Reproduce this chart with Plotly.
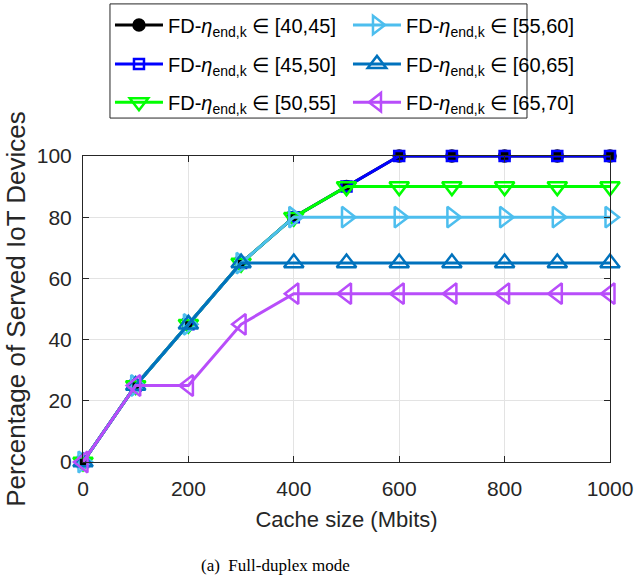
import plotly.graph_objects as go

cache_size = [0, 100, 200, 300, 400, 500, 600, 700, 800, 900, 1000]
ranges = ["[40,45]", "[45,50]", "[50,55]", "[55,60]", "[60,65]", "[65,70]"]
served_40_45 = [0, 25, 45, 65, 80, 90, 100, 100, 100, 100, 100]
served_45_50 = [0, 25, 45, 65, 80, 90, 100, 100, 100, 100, 100]
served_50_55 = [0, 25, 45, 65, 80, 90, 90, 90, 90, 90, 90]
served_55_60 = [0, 25, 45, 65, 80, 80, 80, 80, 80, 80, 80]
served_60_65 = [0, 25, 45, 65, 65, 65, 65, 65, 65, 65, 65]
served_65_70 = [0, 25, 25, 45, 55, 55, 55, 55, 55, 55, 55]
x_ticks = [0, 200, 400, 600, 800, 1000]
y_ticks = [0, 20, 40, 60, 80, 100]

series = [served_40_45, served_45_50, served_50_55, served_55_60, served_60_65, served_65_70]
colors = ["#000000", "#0000FF", "#00FF00", "#4DBEEE", "#0072BD", "#B84DFA"]
symbols = ["circle", "square-open", "triangle-down-open", "triangle-right-open", "triangle-up-open", "triangle-left-open"]
sizes = [11, 10, 17, 18, 17, 18]

# legend layout: two columns, three rows (column-major like the reference)
legend_names = ["legend", "legend2", "legend3", "legend4", "legend5", "legend6"]
col_x = [0.0512, 0.5028]
row_y = [1.428, 1.301, 1.176]

fig = go.Figure()
for i, (vals, rng, col, sym, sz) in enumerate(zip(series, ranges, colors, symbols, sizes)):
    fig.add_trace(go.Scatter(
        x=cache_size, y=vals, mode="lines+markers",
        name="FD-<i>η</i><sub>end,k</sub> ∈ " + rng,
        line=dict(color=col, width=3),
        marker=dict(symbol=sym, size=sz, color=col, line=dict(color=col, width=2.5)),
        cliponaxis=False, legend=legend_names[i],
    ))

axis_common = dict(
    showline=True, linecolor="#262626", linewidth=1, mirror="ticks",
    ticks="inside", ticklen=6, tickcolor="#262626",
    showgrid=True, gridcolor="#E3E3E3", gridwidth=1, zeroline=False,
    tickfont=dict(family="Liberation Sans, Arial, sans-serif", size=21, color="#262626"),
    automargin=False,
)

legend_layout = {}
for i, name in enumerate(legend_names):
    legend_layout[name] = dict(
        x=col_x[i // 3], xanchor="left", y=row_y[i % 3], yanchor="middle",
        bgcolor="rgba(0,0,0,0)", borderwidth=0, itemwidth=48,
        font=dict(family="Liberation Sans, Arial, sans-serif", size=20, color="black"),
    )

fig.update_layout(
    width=637, height=582,
    margin=dict(l=83, r=27, t=156, b=120, autoexpand=False),
    paper_bgcolor="white", plot_bgcolor="white",
    font=dict(family="Liberation Sans, Arial, sans-serif", color="#262626"),
    xaxis=dict(range=[0, 1000], tickvals=x_ticks, ticklabelstandoff=8,
               title=dict(text="Cache size (Mbits)", font=dict(size=22), standoff=12),
               **axis_common),
    yaxis=dict(range=[0, 100], tickvals=y_ticks, ticklabelstandoff=6,
               title=dict(text="Percentage of Served IoT Devices", font=dict(size=26), standoff=3),
               **axis_common),
    showlegend=True,
    **legend_layout,
)

fig.add_shape(type="rect", xref="paper", yref="paper",
              x0=0.0512, x1=0.8425, y0=1.124, y1=1.497,
              line=dict(color="#262626", width=1), fillcolor="rgba(0,0,0,0)", layer="below")

fig.add_annotation(
    text="(a)  Full-duplex mode", xref="paper", yref="paper",
    x=0.366, y=-0.337, xanchor="center", yanchor="middle", showarrow=False,
    font=dict(family="Liberation Serif, Times New Roman, serif", size=17, color="black"),
)

fig.write_html("out.html",
               config={"displayModeBar": False},
               post_script="document.body.style.margin='0';document.body.style.overflow='hidden';")
